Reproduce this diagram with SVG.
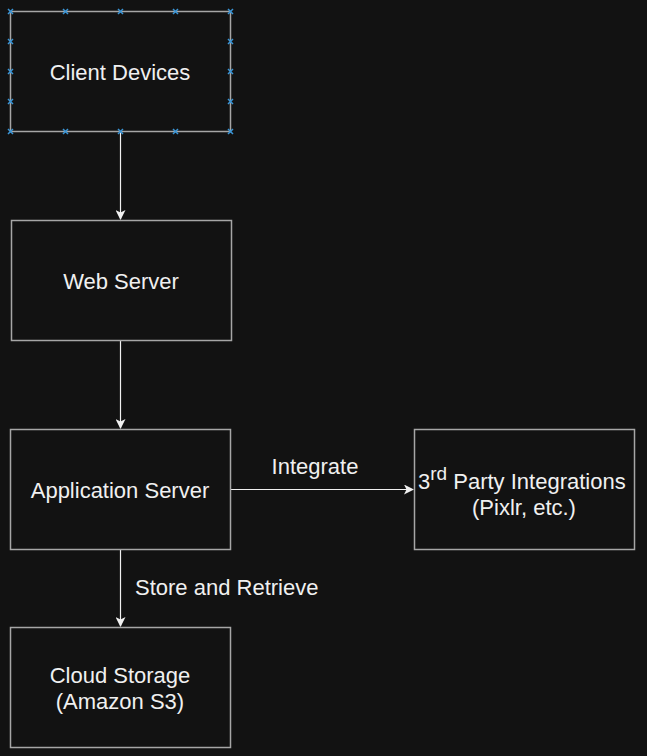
<svg xmlns="http://www.w3.org/2000/svg" width="647" height="756" viewBox="0 0 647 756">
<style>
.box{fill:#121212;stroke:#a6a6a6;stroke-width:1.5}
.t{font-family:"Liberation Sans",Arial,Helvetica,sans-serif;font-size:22px;fill:#f0f0f0;text-anchor:middle}
.tl{font-family:"Liberation Sans",Arial,Helvetica,sans-serif;font-size:22px;fill:#f0f0f0}
.edge{stroke:#f0f0f0;stroke-width:1.2;fill:none}
.h{stroke:#3a95d6;stroke-width:1.5}
</style>
<defs>
<marker id="arr" viewBox="0 0 10 10" refX="9" refY="5" markerWidth="10" markerHeight="10" markerUnits="userSpaceOnUse" orient="auto">
<path d="M0,0 L10,5 L0,10 L2.5,5 z" fill="#f0f0f0"/>
</marker>
<g id="hx"><path d="M-2.5,-2.5 L2.5,2.5 M-2.5,2.5 L2.5,-2.5" class="h"/></g>
</defs>
<rect width="647" height="756" fill="#121212"/>
<g id="connectors">
<line class="edge" x1="120.5" y1="131" x2="120.5" y2="219" marker-end="url(#arr)"/>
<line class="edge" x1="120.5" y1="341" x2="120.5" y2="428" marker-end="url(#arr)"/>
<line class="edge" x1="230" y1="489.5" x2="413" y2="489.5" marker-end="url(#arr)"/>
<text class="t" x="315" y="474">Integrate</text>
<line class="edge" x1="120.5" y1="549" x2="120.5" y2="626" marker-end="url(#arr)"/>
<text class="tl" x="135" y="595">Store and Retrieve</text>
</g>
<g id="client-devices">
<rect class="box" x="10.5" y="11.5" width="220" height="120"/>
<text class="t" x="120" y="80">Client Devices</text>
<use href="#hx" x="10.5" y="11.5"/><use href="#hx" x="65.5" y="11.5"/><use href="#hx" x="120.5" y="11.5"/><use href="#hx" x="175.5" y="11.5"/><use href="#hx" x="230.5" y="11.5"/>
<use href="#hx" x="10.5" y="131.5"/><use href="#hx" x="65.5" y="131.5"/><use href="#hx" x="120.5" y="131.5"/><use href="#hx" x="175.5" y="131.5"/><use href="#hx" x="230.5" y="131.5"/>
<use href="#hx" x="10.5" y="41.5"/><use href="#hx" x="10.5" y="71.5"/><use href="#hx" x="10.5" y="101.5"/>
<use href="#hx" x="230.5" y="41.5"/><use href="#hx" x="230.5" y="71.5"/><use href="#hx" x="230.5" y="101.5"/>
</g>
<g id="web-server">
<rect class="box" x="11.5" y="220.5" width="220" height="120"/>
<text class="t" x="121" y="289">Web Server</text>
</g>
<g id="application-server">
<rect class="box" x="10.5" y="429.5" width="220" height="120"/>
<text class="t" x="120" y="498">Application Server</text>
</g>
<g id="third-party">
<rect class="box" x="414.5" y="429.5" width="220" height="120"/>
<text class="tl" x="418" y="489">3<tspan font-size="19" dy="-9">rd</tspan><tspan dy="9"> Party Integrations</tspan></text>
<text class="t" x="524" y="515">(Pixlr, etc.)</text>
</g>
<g id="cloud-storage">
<rect class="box" x="10.5" y="627.5" width="220" height="120"/>
<text class="t" x="120" y="683">Cloud Storage</text>
<text class="t" x="120" y="709">(Amazon S3)</text>
</g>
</svg>
